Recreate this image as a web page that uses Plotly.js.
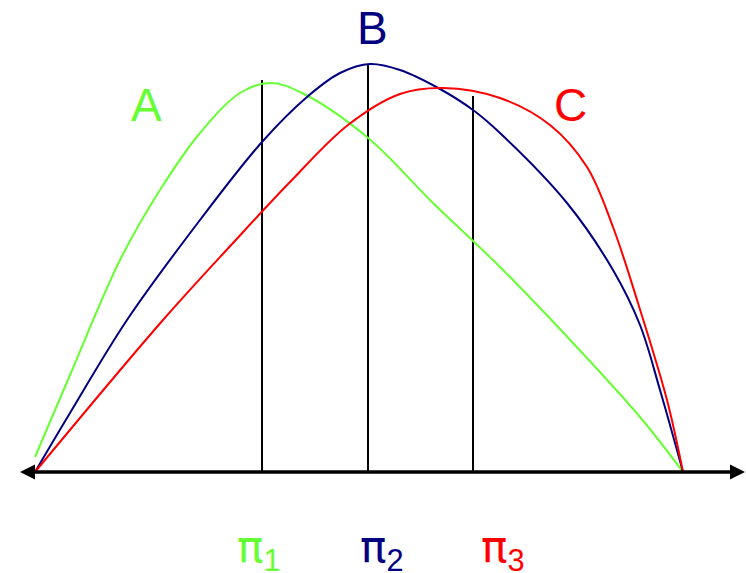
<!DOCTYPE html>
<html>
<head>
<meta charset="utf-8">
<script src="https://cdn.plot.ly/plotly-3.0.1.min.js"></script>
<style>html,body{margin:0;padding:0;background:#fff;}#chart{width:746px;height:573px;}</style>
</head>
<body>
<div id="chart"></div>
<script>
// Curve A (green)
const xA = [35,70,120,160,200,240,270,300,367,433,500,573,640,683];
const yA = [15,97,212,282,339,379,389,380,335,269,205,129,55,0];
// Curve B (navy)
const xB = [35,70,127,200,262,307,340,370,400,440,473,500,567,613,640,660,683];
const yB = [0,59,152,252,330,375,399,408,402,383,362,339,269,202,147,82,0];
// Curve C (red)
const xC = [35,163,233,290,348,400,443,500,550,587,613,638,667,683];
const yC = [0,152,229,290,347,378,384,374,347,305,245,169,72,0];
// Vertical markers π1, π2, π3
const piX = [262,368,473];
const piTop = [392,407,376];
const piSubs = ['1','2','3'];
const curveLabels = ['A','B','C'];

const GREEN = '#66ff33', NAVY = '#000080', RED = '#ff0000';
const colors = [GREEN, NAVY, RED];

const vx = [], vy = [];
piX.forEach((x,i)=>{ vx.push(x,x,null); vy.push(0,piTop[i],null); });

const traces = [
  {x:vx, y:vy, mode:'lines', line:{color:'#000', width:2}, hoverinfo:'skip'},
  {x:xA, y:yA, mode:'lines', line:{color:GREEN, width:2, shape:'spline', smoothing:1}},
  {x:xB, y:yB, mode:'lines', line:{color:NAVY, width:2, shape:'spline', smoothing:1}},
  {x:xC, y:yC, mode:'lines', line:{color:RED, width:2, shape:'spline', smoothing:1}}
];

const font = 'Liberation Sans, Arial, sans-serif';
const labelPos = [[146,367],[372,444],[570,367]];
const piPos = [[259,-77],[382,-77],[503,-77]];

const annotations = [];
// axis double arrow
annotations.push({x:745, y:0, ax:25, ay:0, axref:'x', ayref:'y', xref:'x', yref:'y', text:'', showarrow:true, arrowhead:2, arrowsize:1, arrowwidth:3, arrowcolor:'#000'});
annotations.push({x:20, y:0, ax:740, ay:0, axref:'x', ayref:'y', xref:'x', yref:'y', text:'', showarrow:true, arrowhead:2, arrowsize:1, arrowwidth:3, arrowcolor:'#000'});
curveLabels.forEach((t,i)=>annotations.push({x:labelPos[i][0], y:labelPos[i][1], text:t, showarrow:false, font:{family:font, size:46, color:colors[i]}}));
piSubs.forEach((s,i)=>annotations.push({x:piPos[i][0], y:piPos[i][1],
  text:'π<sub><span style="font-family:Liberation Sans">'+s+'</span></sub>', showarrow:false,
  font:{family:'DejaVu Sans, sans-serif', size:44, color:colors[i]}}));

const layout = {
  width:746, height:573,
  margin:{l:0,r:0,t:0,b:0},
  paper_bgcolor:'#fff', plot_bgcolor:'#fff',
  showlegend:false,
  xaxis:{range:[0,746], visible:false, fixedrange:true},
  yaxis:{range:[-101,472], visible:false, fixedrange:true},
  annotations:annotations
};
Plotly.newPlot('chart', traces, layout, {staticPlot:true});
</script>
</body>
</html>
